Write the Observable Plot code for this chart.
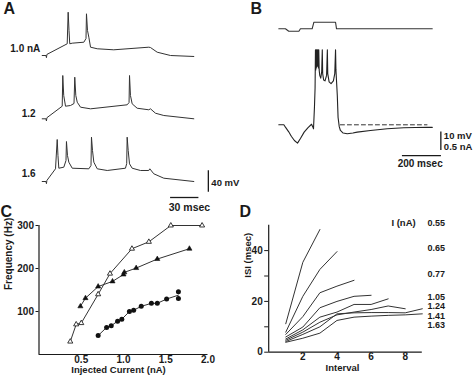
<!DOCTYPE html>
<html><head><meta charset="utf-8">
<script src="https://cdn.jsdelivr.net/npm/d3@7"></script>
<script src="https://cdn.jsdelivr.net/npm/@observablehq/plot@0.6"></script>
<style>
body{margin:0;background:#fff;}
#fig{position:relative;width:474px;height:376px;overflow:hidden;background:#fff;}
#fig svg{position:absolute;left:0;top:0;}
</style></head><body><div id="fig"></div>
<script>
// ---------- Panel A: membrane potential traces [time ms, mV above rest] ----------
const traceLabelsA = ["1.0 nA", "1.2", "1.6"];
const traceA10 = [[0,0],[4,0],[4.5,-4],[5,2],[26.5,21.6],[27.5,79.8],[28.4,46],[29.2,21.6],[31.8,22.7],[44.1,24.5],[46.4,31.3],[46.9,76.9],[48,46],[49.4,33.7],[51.2,15.3],[58.3,12.4],[75.8,10.5],[112.9,15.3],[114.7,14.7],[121.8,6.1],[135.9,0],[160.6,-1.8]];
const traceA12 = [[0,0],[4,0],[4.5,-4],[5,2],[21.2,23.2],[21.8,79.8],[22.8,43],[24.7,23.2],[30,24.5],[33.7,28.2],[34.5,76.7],[35.6,43],[37.1,30.6],[40.6,21.4],[51.2,18.4],[90,25.8],[92,30],[92.5,79.8],[93.5,43],[95.3,27.6],[100.6,19.5],[112.9,16.6],[114.7,18.4],[120,10.3],[128.8,6.1],[160.6,0]];
const traceA16 = [[0,0],[4,0],[4.5,-4],[5,2],[14.1,23.4],[15.9,77.4],[16.7,48],[17.6,24.5],[22.9,26.4],[25.2,38.7],[25.7,73.7],[26.8,48],[28.2,35.6],[31.8,24.5],[49.4,23.4],[51.7,29.5],[52.2,81.7],[53.3,57],[54.7,35.6],[58.3,23.4],[68.9,20.3],[88.2,24.5],[89.5,33],[90,81.7],[91.1,57],[92.5,32.6],[95.3,24.5],[104.1,20.3],[112.9,20.3],[114,23.4],[118.2,14.2],[128.8,6.1],[160.6,0]];

// ---------- Panel B: current step [ms, nA] and voltage [ms, mV above rest] ----------
const traceBcurrent = [[0,0],[34,0],[51,-0.065],[103,-0.065],[111,0],[171,0],[180,0.18],[291,0.18],[296,0],[787,0]];
const traceBvoltage = [[0,0],[26,0],[34,-1.3],[50,-3.7],[65,-6.4],[80,-8.6],[96,-10],[111,-7.5],[130,-4],[150,-1.5],[168,0.3],[175,-1.3],[178,-2.2],[183,10],[186,20],[188,41],[189.5,30],[191,41],[192.5,31],[194,41],[195.5,32],[197,41],[199,32],[201,41],[203,31],[205,41],[207,30],[210,27],[215,25.5],[220,29],[223,41],[225,28],[230,24.5],[237,24],[245,27],[249,41],[251,28],[258,23.5],[268,22.5],[280,24],[287,28],[291,41],[293,30],[297,22],[300,16],[304,4],[310,-1],[316,-3.1],[330,-4.5],[351,-4.9],[380,-4.5],[402,-4],[470,-3.1],[556,-2.2],[641,-1.6],[700,-1.5],[761,-1.3],[787,-1.4]];
const restLevelB = [[316,0],[760,0]];

// ---------- Panel C: frequency vs injected current ----------
const currentOpenTri = [0.37,0.44,0.5,0.7,0.84,1.1,1.3,1.56,1.93];
const freqOpenTri    = [30,70,73,140,188,246,262,300,300];
const currentFillTri = [0.49,0.55,0.70,0.87,1.0,1.01,1.15,1.40,1.78];
const freqFillTri    = [112,131,158,170,186,191,201,222,246];
const currentCircle  = [0.70,0.80,0.855,0.93,0.98,1.07,1.12,1.21,1.33,1.40,1.51,1.65,1.65];
const freqCircle     = [44,63,67,77.5,82,100,103,112,119,119,129,146,130];
const freqTicksC = [100,200,300];
const currentTicksC = [0.5,1.0,1.5,2.0];

// ---------- Panel D: ISI vs interval number ----------
const isiSeries = [
  [11.2,35.4,48.3],
  [7.9,22,32.6,39.6],
  [7,14,23.4,26,28.3],
  [6,9.9,17.5,20,22,22.4],
  [5.2,8.8,13.8,15.8,18.8,18.8,21],
  [4.7,7.9,11.8,14.7,15.8,16.8,18.2,17.1],
  [4.2,7.0,10,15.1,15.5,15.6,15.6,15.5,17.1],
  [3.9,5.5,7.5,12.5,13.8,14.2,14.5,14.7,15.1]
];
const currentLabelsD = ["0.55","0.65","0.77","1.05","1.24","1.41","1.63"];
const isiTicksD = [0,10,20,30,40];
const intervalTicksD = [2,4,6,8];

// ---------- layout ----------
const W = 474, H = 376;
const FONT = "'Liberation Sans', Arial, Helvetica, sans-serif";
const INK = "#1a1a1a";
const fig = document.getElementById("fig");

function layer({xDomain, xPx, yDomain, yPx, marks}) {
  const svg = Plot.plot({
    width: W, height: H,
    marginLeft: xPx[0], marginRight: W - xPx[1],
    marginTop: yPx[1], marginBottom: H - yPx[0],
    x: {domain: xDomain, axis: null},
    y: {domain: yDomain, axis: null},
    style: {background: "transparent", overflow: "visible", fontFamily: FONT, fontWeight: "bold", fontSize: "10px", color: INK},
    marks
  });
  fig.appendChild(svg);
}

const tx = d => d[0], ty = d => d[1];

// Panel A: three traces
const pxPerMsA = 0.944, pxPerMvA = 0.5425, t0A = 41.7;
const baselinesA = [55, 118.3, 181];
const labelTA = [-2, -7, -7], labelVA = [13, 9, 14];
[traceA10, traceA12, traceA16].forEach((tr, i) => {
  const b = baselinesA[i];
  const yDom = [-20, 96];
  const marks = [
    Plot.line(tr, {x: tx, y: ty, stroke: "#333", strokeWidth: 1}),
    Plot.text([traceLabelsA[i]], {x: labelTA[i], y: labelVA[i], text: d => d, textAnchor: "end", fontSize: 10, fontWeight: "bold", fill: INK})
  ];
  if (i === 2) {
    marks.push(
      Plot.ruleX([176], {y1: -20, y2: 20, stroke: INK, strokeWidth: 1.3}),
      Plot.text(["40 mV"], {x: 176, y: -2, dx: 3, text: d => d, textAnchor: "start", fontSize: 9.5, fontWeight: "bold", fill: INK}),
      Plot.ruleY([-29.5], {x1: 136, x2: 166, stroke: INK, strokeWidth: 1.3}),
      Plot.text(["30 msec"], {x: 156, y: -47.4, text: d => d, fontSize: 10.5, fontWeight: "bold", fill: INK})
    );
  }
  layer({
    xDomain: [0, 170], xPx: [t0A, t0A + 170 * pxPerMsA],
    yDomain: yDom, yPx: [b - yDom[0] * pxPerMvA, b - yDom[1] * pxPerMvA],
    marks
  });
});

// Panel B
const t0B = 278.3, pxPerMsB = 0.195;
layer({
  xDomain: [0, 800], xPx: [t0B, t0B + 800 * pxPerMsB],
  yDomain: [-0.5, 0.5], yPx: [28.3 + 0.5 * 36.6, 28.3 - 0.5 * 36.6],
  marks: [Plot.line(traceBcurrent, {x: tx, y: ty, stroke: "#333", strokeWidth: 1.1})]
});
layer({
  xDomain: [0, 800], xPx: [t0B, t0B + 800 * pxPerMsB],
  yDomain: [-25, 45], yPx: [124.3 + 25 * 1.83, 124.3 - 45 * 1.83],
  marks: [
    Plot.line(traceBvoltage, {x: tx, y: ty, stroke: "#222", strokeWidth: 1.1}),
    Plot.line(restLevelB, {x: tx, y: ty, stroke: "#333", strokeWidth: 1, strokeDasharray: "4,3"}),
    Plot.ruleX([831], {y1: -14, y2: -4, stroke: INK, strokeWidth: 1.3}),
    Plot.text(["10 mV"], {x: 831, y: -6.3, dx: 3, text: d => d, textAnchor: "start", fontSize: 9.5, fontWeight: "bold", fill: INK}),
    Plot.text(["0.5 nA"], {x: 831, y: -11.9, dx: 3, text: d => d, textAnchor: "start", fontSize: 9.5, fontWeight: "bold", fill: INK}),
    Plot.ruleY([-16.8], {x1: 634, x2: 834, stroke: INK, strokeWidth: 1.3}),
    Plot.text(["200 msec"], {x: 725, y: -21.3, text: d => d, fontSize: 10, fontWeight: "bold", fill: INK})
  ]
});

// Panel C
const openTri = currentOpenTri.map((c, i) => ({c, f: freqOpenTri[i]}));
const fillTri = currentFillTri.map((c, i) => ({c, f: freqFillTri[i]}));
const circ = currentCircle.map((c, i) => ({c, f: freqCircle[i]}));
layer({
  xDomain: [0, 2], xPx: [38.5, 207.5],
  yDomain: [0, 300], yPx: [354, 225],
  marks: [
    Plot.ruleX([0], {stroke: INK, strokeWidth: 1.2}),
    Plot.ruleY([0], {stroke: INK, strokeWidth: 1.2}),
    Plot.axisY({ticks: freqTicksC, tickSize: 3, tickPadding: 2, label: null, fontSize: 10, fontWeight: "bold", stroke: INK}),
    Plot.axisX({ticks: currentTicksC, tickSize: 0, tickPadding: 1, tickFormat: d3.format(".1f"), label: null, fontSize: 10, fontWeight: "bold"}),
    Plot.text(["Frequency (Hz)"], {frameAnchor: "left", dx: -30, rotate: -90, text: d => d, fontSize: 10, fontWeight: "bold", fill: INK}),
    Plot.text(["Injected Current (nA)"], {frameAnchor: "bottom", dx: -5, dy: 18, text: d => d, fontSize: 9.5, fontWeight: "bold", fill: INK}),
    Plot.line(openTri, {x: "c", y: "f", stroke: "#333", strokeWidth: 1}),
    Plot.line(fillTri, {x: "c", y: "f", stroke: "#333", strokeWidth: 1}),
    Plot.line(circ, Plot.groupX({y: "mean"}, {x: "c", y: "f", stroke: "#333", strokeWidth: 1})),
    Plot.dot(openTri, {x: "c", y: "f", symbol: "triangle", r: 1.9, fill: "white", stroke: "#222", strokeWidth: 0.9}),
    Plot.dot(fillTri, {x: "c", y: "f", symbol: "triangle", r: 1.9, fill: "#111", stroke: "#111", strokeWidth: 0.6}),
    Plot.dot(circ, {x: "c", y: "f", r: 2.5, fill: "#111", stroke: "none"})
  ]
});

// Panel D
const isiRows = isiSeries.flatMap((s, k) => s.map((v, j) => ({series: k, interval: j + 1, isi: v})));
const labelYD = [50.8, 40.9, 30.9, 21.8, 18.0, 14.3, 10.6];
layer({
  xDomain: [0, 9], xPx: [268.2, 421.8],
  yDomain: [0, 50], yPx: [351.7, 224.7],
  marks: [
    Plot.ruleX([0], {stroke: INK, strokeWidth: 1.2}),
    Plot.ruleY([0], {stroke: INK, strokeWidth: 1.2}),
    Plot.axisY({ticks: isiTicksD, tickSize: 4, tickPadding: 2, tickFormat: d => d % 20 === 0 ? d : "", label: null, fontSize: 10, fontWeight: "bold"}),
    Plot.axisX({ticks: intervalTicksD, tickSize: 0, tickPadding: 1, label: null, fontSize: 10, fontWeight: "bold"}),
    Plot.text(["ISI (msec)"], {frameAnchor: "left", dx: -21, dy: -11, rotate: -90, text: d => d, fontSize: 9.5, fontWeight: "bold", fill: INK}),
    Plot.text(["Interval"], {frameAnchor: "bottom", dx: -3, dy: 19, text: d => d, fontSize: 9.5, fontWeight: "bold", fill: INK}),
    Plot.line(isiRows, {x: "interval", y: "isi", z: "series", stroke: "#333", strokeWidth: 1}),
    Plot.text(["I (nA)"], {x: 7.9, y: 50.8, text: d => d, fontSize: 9.5, fontWeight: "bold", fill: INK}),
    Plot.text(currentLabelsD, {x: 9.3, y: (d, i) => labelYD[i], text: d => d, textAnchor: "start", fontSize: 9, fontWeight: "bold", fill: INK})
  ]
});

// Panel letters
const panelLetters = ["A", "B", "C", "D"];
const letterPos = [[3, 8], [250, 8], [0, 211], [239, 211]];
layer({
  xDomain: [0, W], xPx: [0, W],
  yDomain: [H, 0], yPx: [H, 0],
  marks: [Plot.text(panelLetters, {x: (d, i) => letterPos[i][0], y: (d, i) => letterPos[i][1], text: d => d, textAnchor: "start", fontSize: 16, fontWeight: "bold", fill: INK})]
});
</script></body></html>
